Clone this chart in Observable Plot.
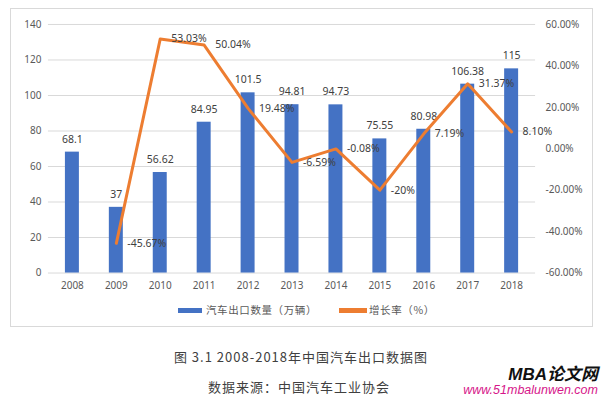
<!DOCTYPE html>
<html>
<head>
<meta charset="utf-8">
<script src="https://cdn.jsdelivr.net/npm/d3@7"></script>
<script src="https://cdn.jsdelivr.net/npm/@observablehq/plot@0.6"></script>
<style>
  html, body { margin: 0; padding: 0; background: #fff; }
  #page { position: relative; width: 602px; height: 396px; overflow: hidden; font-family: "Noto Sans CJK SC", "Noto Sans", sans-serif; }
  #frame { position: absolute; left: 10px; top: 8px; width: 583px; height: 319px; border: 1px solid #d9d9d9; box-sizing: border-box; }
  #chart { position: absolute; left: -1px; top: -1px; }
  .leg { position: absolute; top: 293px; font-size: 10.5px; color: #595959; letter-spacing: 0.6px; white-space: nowrap; }
  .sw { position: absolute; top: 299px; height: 5px; }
  .cap { position: absolute; left: 0; width: 602px; text-align: center; font-size: 13px; color: #404040; letter-spacing: 1px; white-space: nowrap; }
  .wm1 { position: absolute; right: 4px; top: 360px; font-size: 17px; font-weight: bold; font-style: italic; color: #111; font-family: "Liberation Sans", "Noto Sans CJK SC", sans-serif; }
  .wm2 { position: absolute; right: 4px; top: 383px; font-size: 12.5px; font-style: italic; color: #d6168a; font-family: "Liberation Sans", sans-serif; }
</style>
</head>
<body>
<div id="page">
  <div id="frame">
    <div id="chart"></div>
  </div>
</div>
<script>
const years = ["2008","2009","2010","2011","2012","2013","2014","2015","2016","2017","2018"];
const exportsVol = [68.1, 37, 56.62, 84.95, 101.5, 94.81, 94.73, 75.55, 80.98, 106.38, 115];
const exportLabels = ["68.1","37","56.62","84.95","101.5","94.81","94.73","75.55","80.98","106.38","115"];
const growthYears = ["2009","2010","2011","2012","2013","2014","2015","2016","2017","2018"];
const growth = [-45.67, 53.03, 50.04, 19.48, -6.59, -0.08, -20, 7.19, 31.37, 8.10];
const growthLabels = ["-45.67%","53.03%","50.04%","19.48%","-6.59%","-0.08%","-20%","7.19%","31.37%","8.10%"];
const leftTicks = [0, 20, 40, 60, 80, 100, 120, 140];
const rightTicks = [-60, -40, -20, 0, 20, 40, 60];
const rightTickLabels = ["-60.00%","-40.00%","-20.00%","0.00%","20.00%","40.00%","60.00%"];
const legendSeries = ["汽车出口数量（万辆）", "增长率（%）"];
const captionTitle = "图 3.1 2008-2018年中国汽车出口数据图";
const captionSource = "数据来源：中国汽车工业协会";

const toLeft = p => (p + 60) * 140 / 120;
const barColor = "#4472c4";
const lineColor = "#ed7d31";
const textColor = "#595959";

const barData = years.map((y, i) => ({year: y, value: exportsVol[i], label: exportLabels[i]}));
const lineData = growthYears.map((y, i) => ({year: y, value: toLeft(growth[i]), label: growthLabels[i]}));

const chart = Plot.plot({
  width: 583,
  height: 295,
  marginLeft: 38,
  marginRight: 57,
  marginTop: 16,
  marginBottom: 30,
  style: {fontFamily: "'Noto Sans', sans-serif", fontSize: "10px", color: textColor, background: "transparent"},
  x: {domain: years, type: "band", paddingInner: 0.69, paddingOuter: 0.345},
  y: {domain: [0, 140]},
  marks: [
    Plot.gridY(leftTicks, {stroke: "#d9d9d9", strokeOpacity: 1, strokeWidth: 1}),
    Plot.axisY(leftTicks, {anchor: "left", tickSize: 0, tickPadding: 7, label: null, fill: textColor}),
    Plot.axisY(rightTicks.map(toLeft), {anchor: "right", tickSize: 0, tickPadding: 10, label: null, fill: textColor,
      tickFormat: (d, i) => rightTickLabels[i]}),
    Plot.axisX({tickSize: 0, tickPadding: 9, label: null, fill: textColor}),
    Plot.barY(barData, {x: "year", y: "value", fill: barColor}),
    Plot.text(barData, {x: "year", y: "value", text: "label", dy: -13, fill: "#404040", fontSize: 10.5}),
    Plot.line(lineData, {x: "year", y: "value", stroke: lineColor, strokeWidth: 3, strokeLinejoin: "round"}),
    Plot.text(lineData, {x: "year", y: "value", text: "label", dx: 11, textAnchor: "start", fill: "#404040", fontSize: 10.5})
  ]
});
document.getElementById("chart").appendChild(chart);

const frame = document.getElementById("frame");
const leg = [
  {sx: 167, sw: 24, tx: 195, color: barColor, text: legendSeries[0]},
  {sx: 328, sw: 28, tx: 358, color: lineColor, text: legendSeries[1]}
];
leg.forEach(l => {
  const s = document.createElement("div");
  s.className = "sw"; s.style.left = l.sx + "px"; s.style.width = l.sw + "px"; s.style.background = l.color;
  frame.appendChild(s);
  const t = document.createElement("div");
  t.className = "leg"; t.style.left = l.tx + "px"; t.textContent = l.text;
  frame.appendChild(t);
});

const page = document.getElementById("page");
const c1 = document.createElement("div");
c1.className = "cap"; c1.style.top = "347px"; c1.textContent = captionTitle;
page.appendChild(c1);
const c2 = document.createElement("div");
c2.className = "cap"; c2.style.top = "377px"; c2.style.left = "-2px"; c2.textContent = captionSource;
page.appendChild(c2);
const w1 = document.createElement("div"); w1.className = "wm1"; w1.textContent = "MBA论文网"; page.appendChild(w1);
const w2 = document.createElement("div"); w2.className = "wm2"; w2.textContent = "www.51mbalunwen.com"; page.appendChild(w2);
</script>
</body>
</html>
